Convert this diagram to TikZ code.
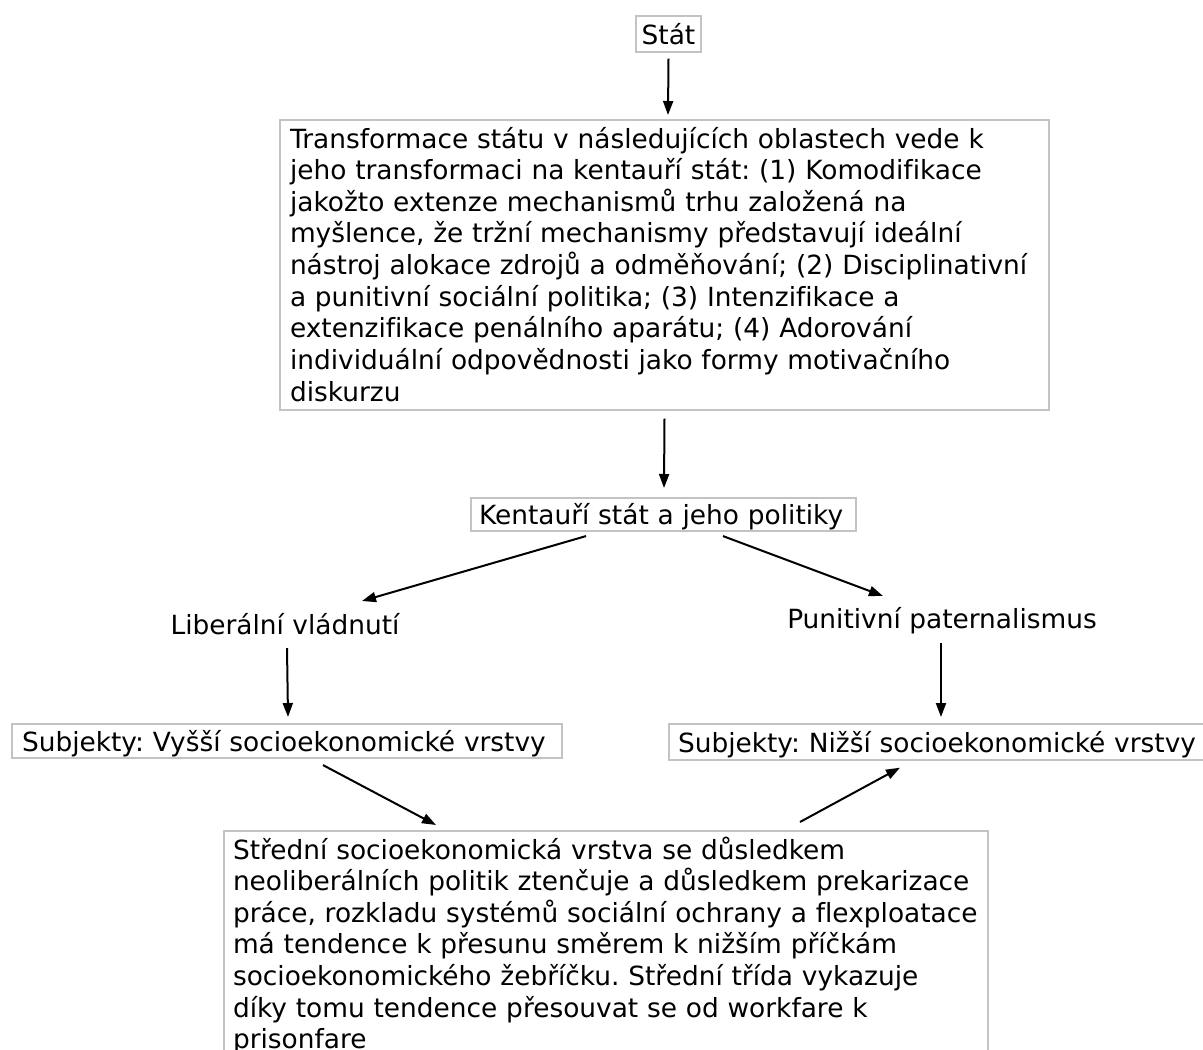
\documentclass[tikz,border=0pt]{standalone}
\usepackage{fontspec}
\setmainfont{DejaVu Sans}[Ligatures=NoCommon]
\usetikzlibrary{arrows.meta}
\definecolor{boxgray}{RGB}{195,195,195}
\frenchspacing
% strut with the height and depth of one text line
\newcommand\linestrut{\rule[-0.21em]{0pt}{1.2em}}
\begin{document}
\begin{tikzpicture}[x=1pt,y=-1pt,
  txt/.style={font=\fontsize{26.4}{31.6}\selectfont},
  frame/.style={txt, draw=boxgray, line width=2pt, anchor=north west,
                inner ysep=2pt, align=left},
  plain/.style={txt, inner sep=0pt, anchor=base},
  arr/.style={line width=2pt, -{Triangle[length=14pt,width=10pt]}}]

\useasboundingbox (0,0) rectangle (1203,1050);
\fill[white] (0,0) rectangle (1203,1050);
\clip (0,0) rectangle (1203,1050);

% boxes and labels
\node[frame, inner xsep=5pt, text width=55pt, align=center] (stat) at (635,15)
  {\linestrut St\'at};

\node[frame, inner xsep=10pt, text width=749pt] (trans) at (279,119)
  {\linestrut Transformace státu v následujících oblastech vede k\\
   jeho transformaci na kentauří stát: (1) Komodifikace\\
   jakožto extenze mechanismů trhu založená na\\
   myšlence, že tržní mechanismy představují ideální\\
   nástroj alokace zdrojů a odměňování; (2) Disciplinativní\\
   a punitivní sociální politika; (3) Intenzifikace a\\
   extenzifikace penálního aparátu; (4) Adorování\\
   individuální odpovědnosti jako formy motivačního\\
   diskurzu\linestrut};

\node[frame, inner xsep=8pt, inner ysep=0.7pt, text width=369pt] (kent) at (470,497)
  {\linestrut Kentauří stát a jeho politiky};

\node[plain] (lib) at (285,634) {Liberální vládnutí};
\node[plain] (pun) at (942,628) {Punitivní paternalismus};

\node[frame, inner xsep=10pt, inner ysep=1.2pt, text width=530pt] (vyssi) at (11,723)
  {\linestrut Subjekty: Vyšší socioekonomické vrstvy};

\node[frame, inner xsep=9pt, text width=560pt] (nizsi) at (668,723)
  {\linestrut Subjekty: Nižší socioekonomické vrstvy};

\node[frame, inner xsep=9pt, text width=746pt] (stred) at (223,830)
  {\linestrut Střední socioekonomická vrstva se důsledkem\\
   neoliberálních politik ztenčuje a důsledkem prekarizace\\
   práce, rozkladu systémů sociální ochrany a flexploatace\\
   má tendence k přesunu směrem k nižším příčkám\\
   socioekonomického žebříčku. Střední třída vykazuje\\
   díky tomu tendence přesouvat se od workfare k\\
   prisonfare\rule[-60pt]{0pt}{60pt}};

% connectors
\draw[arr] ([shift={(0,6)}]stat.south) -- ([shift={(3.5,-4)}]trans.north);
\draw[arr] ([shift={(0,8)}]trans.south) -- ([shift={(0.5,-9)}]kent.north);
\draw[arr] ([shift={(-77.5,4)}]kent.south) -- ([shift={(77,-33)}]lib.base);
\draw[arr] ([shift={(59.5,4)}]kent.south) -- ([shift={(-59,-32)}]pun.base);
\draw[arr] ([shift={(2,14)}]lib.base) -- ([shift={(1,-6)}]vyssi.north);
\draw[arr] ([shift={(-1,15)}]pun.base) -- ([shift={(273,-6)}]nizsi.north west);
\draw[arr] ([shift={(36,6)}]vyssi.south) -- ([shift={(213,-5)}]stred.north west);
\draw[arr] ([shift={(577,-8)}]stred.north west) -- ([shift={(232,7)}]nizsi.south west);
\end{tikzpicture}
\end{document}
